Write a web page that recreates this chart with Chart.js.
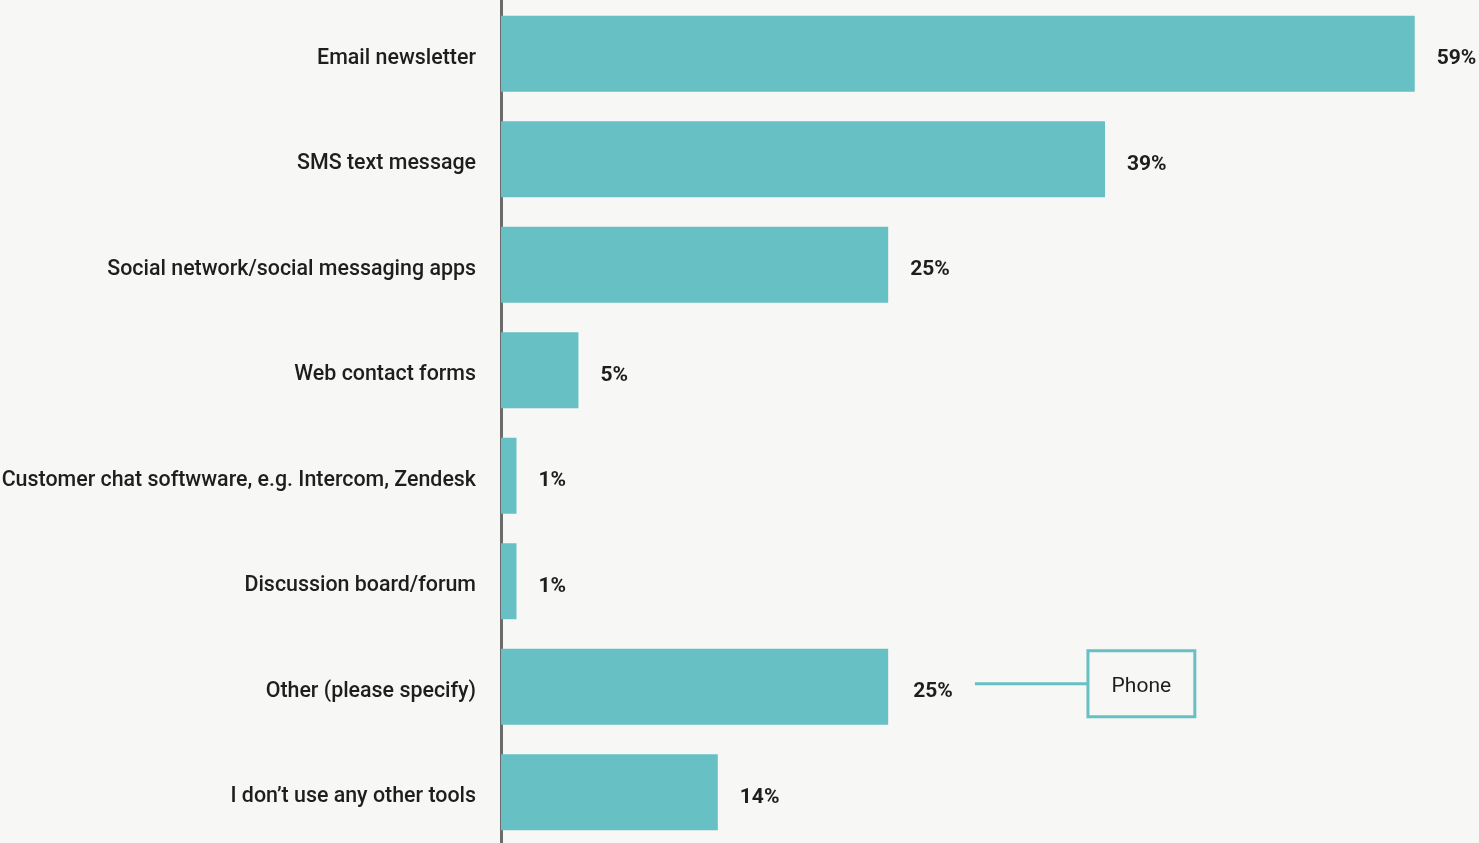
<!DOCTYPE html>
<html lang="en">
<head>
  <meta charset="UTF-8">
  <title>Other communication tools</title>
  <script src="https://cdn.jsdelivr.net/npm/chart.js"></script>
  <style>
    html, body {
      margin: 0;
      padding: 0;
      background: #f7f7f5;
      overflow: hidden;
    }
    #wrap {
      width: 1479px;
      height: 845px;
    }
  </style>
</head>
<body>
  <div id="wrap"><canvas id="tools"></canvas></div>
  <script>
    const categories = [
      'Email newsletter',
      'SMS text message',
      'Social network/social messaging apps',
      'Web contact forms',
      'Customer chat softwware, e.g. Intercom, Zendesk',
      'Discussion board/forum',
      'Other (please specify)',
      'I don\u2019t use any other tools'
    ];
    const shares = [59, 39, 25, 5, 1, 1, 25, 14];
    const valueLabels = ['59%', '39%', '25%', '5%', '1%', '1%', '25%', '14%'];

    // "Other" answers were mostly phone
    const noteIndex = 6;
    const noteText = 'Phone';

    const teal = '#67c0c3';
    const ink = '#1e1e1e';
    const fontFamily = 'Roboto, "Noto Sans", sans-serif';

    // category names, right-aligned against the axis line
    const categoryLabelPlugin = {
      id: 'categoryLabels',
      afterDraw(chart) {
        const { ctx, scales } = chart;
        const yScale = scales.y;
        ctx.save();
        ctx.font = '500 21.4px ' + fontFamily;
        ctx.fillStyle = ink;
        ctx.textAlign = 'right';
        ctx.textBaseline = 'alphabetic';
        categories.forEach((name, i) => {
          ctx.fillText(name, yScale.right - 25, yScale.getPixelForTick(i) + 10);
        });
        ctx.restore();
      }
    };

    const valueLabelPlugin = {
      id: 'valueLabels',
      afterDatasetsDraw(chart) {
        const { ctx } = chart;
        const meta = chart.getDatasetMeta(0);
        ctx.save();
        ctx.font = 'bold 21px ' + fontFamily;
        ctx.fillStyle = ink;
        ctx.textAlign = 'left';
        ctx.textBaseline = 'alphabetic';
        meta.data.forEach((bar, i) => {
          const gap = i === noteIndex ? 25 : 22;
          ctx.fillText(valueLabels[i], bar.x + gap, bar.y + 10.5);
        });
        ctx.restore();
      }
    };

    const calloutPlugin = {
      id: 'callout',
      afterDatasetsDraw(chart) {
        const { ctx, scales } = chart;
        const bar = chart.getDatasetMeta(0).data[noteIndex];
        const x = scales.x;
        const y = bar.y - 3;
        const lineStart = x.getPixelForValue(30.6);
        const boxLeft = x.getPixelForValue(37.9);
        const boxRight = x.getPixelForValue(44.8);
        const boxHalf = 33;

        ctx.save();
        ctx.strokeStyle = teal;
        ctx.lineWidth = 3;
        ctx.beginPath();
        ctx.moveTo(lineStart, y);
        ctx.lineTo(boxLeft, y);
        ctx.stroke();

        ctx.fillStyle = '#f7f7f5';
        ctx.fillRect(boxLeft, y - boxHalf, boxRight - boxLeft, boxHalf * 2);
        ctx.strokeRect(boxLeft, y - boxHalf, boxRight - boxLeft, boxHalf * 2);

        ctx.font = '21px ' + fontFamily;
        ctx.fillStyle = ink;
        ctx.textAlign = 'center';
        ctx.textBaseline = 'alphabetic';
        ctx.fillText(noteText, (boxLeft + boxRight) / 2, y + 8);
        ctx.restore();
      }
    };

    new Chart(document.getElementById('tools'), {
      type: 'bar',
      data: {
        labels: categories,
        datasets: [{
          data: shares,
          backgroundColor: teal,
          borderWidth: 0,
          barPercentage: 0.72,
          categoryPercentage: 1
        }]
      },
      options: {
        indexAxis: 'y',
        responsive: true,
        maintainAspectRatio: false,
        animation: false,
        layout: { padding: { top: 1, right: 0, bottom: 0, left: 0 } },
        scales: {
          x: {
            display: false,
            min: 0,
            max: 63.15
          },
          y: {
            grid: { display: false, drawTicks: false },
            border: { display: true, color: '#6b6b6b', width: 3 },
            ticks: { display: false },
            afterFit(scale) {
              scale.width = 501;
              scale.paddingTop = 0;
              scale.paddingBottom = 0;
            }
          }
        },
        plugins: {
          legend: { display: false },
          tooltip: { enabled: false }
        }
      },
      plugins: [valueLabelPlugin, calloutPlugin, categoryLabelPlugin]
    });
  </script>
</body>
</html>
